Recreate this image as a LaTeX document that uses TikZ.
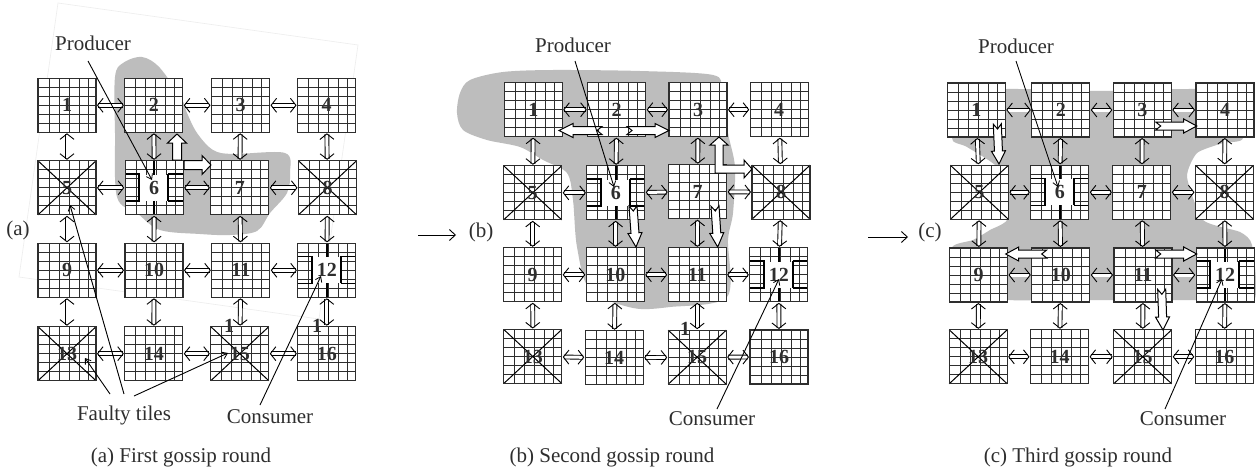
\documentclass[tikz,border=0pt]{standalone}
\usepackage{fontspec}
\setmainfont{Liberation Serif}
\usetikzlibrary{calc,arrows.meta}
\definecolor{ink}{HTML}{2E2E2E}
\definecolor{blobgray}{HTML}{BDBDBD}
\newcommand\tilegrid{%
  \fill[white] (0,0) rectangle (58,54);
  \foreach \gx in {11,21,31,41,50} \draw[gridline] (\gx,0) -- (\gx,54);
  \foreach \gy in {9,18,27,36,45} \draw[gridline] (0,\gy) -- (58,\gy);}
\newcommand\tiletile{\tilegrid}
\newcommand\tilefaulty{\tilegrid
  \draw[crossline] (0,0) -- (58,54);
  \draw[crossline] (58,0) -- (0,54);}
\newcommand\tilecore{\tilegrid
  \fill[white] (14,14) rectangle (43,40);
  \draw[coreline] (0,13) -- (14,13) -- (14,40) -- (0,40) (43,13) -- (58,13) (43,13) -- (43,40) (43,40) -- (58,40);
  \draw[coreline] (29,0) -- (29,14) (29,40) -- (29,54);}
\newcommand\placetile[5]{%
  \begin{scope}[shift={(#3-29,#4-27)}]\csname tile#5\endcsname\end{scope}
  \node[tilebase] (#1#2) at (#3,#4) {#2};}
\newcommand\gossiparrow[6]{%
  \coordinate (gh) at ($(#6)!#3pt!(#5)$);
  \coordinate (gn) at ($(#5)!#4pt!(#6)$);
  \draw[blockarrow] ($(#5)!#1pt!90:(#6)$) -- ($(gh)!#1pt!90:(#6)$) -- ($(gh)!#2pt!90:(#6)$) -- (#6)
    -- ($(gh)!#2pt!-90:(#6)$) -- ($(gh)!#1pt!-90:(#6)$) -- ($(#5)!#1pt!-90:(#6)$) -- (gn) -- cycle;}
\newcommand\linkall[1]{%
  \foreach \p/\q in {1/2,2/3,3/4,5/6,6/7,7/8,9/10,10/11,11/12,13/14,14/15,15/16,1/5,2/6,3/7,4/8,5/9,6/10,7/11,8/12,9/13,10/14,11/15,12/16}
    \draw[link] (#1\p) -- (#1\q);}
\tikzset{
  x=1pt,y=-1pt,
  gridline/.style={line width=1pt,ink},
  crossline/.style={line width=1pt,black},
  coreline/.style={line width=1.5pt,black},
  tilebase/.style={draw=ink,line width=1.3pt,minimum width=58pt,minimum height=54pt,inner sep=0pt,outer sep=0pt,
    text=ink,font=\fontsize{20}{20}\selectfont\bfseries},
  link/.style={double=white,double distance=3pt,line width=0.9pt,black,shorten >=1pt,shorten <=1pt,
    {Straight Barb[length=5.5pt,width=14pt,line width=0.9pt]}-{Straight Barb[length=5.5pt,width=14pt,line width=0.9pt]}},
  blockarrow/.style={draw=black,line width=1pt,fill=white,line join=miter},
  leader/.style={line width=0.9pt,black,-{Straight Barb[length=5pt,width=7pt,line width=0.8pt]}},
  flow/.style={line width=0.9pt,black,-{Straight Barb[length=6pt,width=11pt,line width=0.9pt]}},
  blob/.style={fill=blobgray,draw=none},
  lbl/.style={text=ink,font=\fontsize{21}{21}\selectfont,inner sep=0pt},
  one/.style={text=ink,font=\fontsize{20}{20}\selectfont\bfseries,inner sep=0pt},
  faint/.style={draw=black!7,line width=0.6pt},
}
\begin{document}
\begin{tikzpicture}
\useasboundingbox (0,0) rectangle (1256,471);
\fill[white] (0,0) rectangle (1256,471);
% faint frame in panel a
\draw[faint] (58,3) -- (358,45) -- (319,319) -- (19,277) -- cycle;
% gray regions
\fill[blob] plot[smooth cycle,tension=0.55] coordinates {(142,57) (160,68) (182,100) (187,113) (197,133) (213,150) (233,154) (285,153) (290,173) (287,193) (270,213) (257,231) (230,235) (200,234) (160,230) (137,213) (117,197) (115,133) (115,77) (123,63)};
\fill[blob] plot[smooth cycle,tension=0.5] coordinates {(470,80) (503,72) (553,70) (640,71) (713,75) (722,90) (728,133) (735,167) (733,213) (728,240) (727,297) (670,307) (633,308) (590,290) (577,247) (573,200) (567,173) (543,160) (520,147) (487,140) (463,130) (457,113) (460,93)};
\fill[blob] plot[smooth cycle,tension=0.35] coordinates {(980,91) (1100,91) (1230,91) (1243,138) (1223,143) (1197,153) (1187,177) (1203,220) (1240,232) (1252,245) (1254,300) (1196,300) (1100,300) (1008,300) (975,290) (952,248) (973,240) (990,230) (1008,218) (1000,170) (967,147) (952,138)};
% panel a tiles
\foreach \n/\x/\y/\k in {1/67/105.3/tile,2/153.8/105.3/tile,3/240.5/105.3/tile,4/326.5/105.3/tile,
  5/67/187.8/faulty,6/154.2/187.8/core,7/239.8/187.8/tile,8/327.5/187.8/faulty,
  9/67/270.3/tile,10/154/270.3/tile,11/240.8/270.3/tile,12/326.8/270.3/core,
  13/67/353.7/faulty,14/153.8/353.7/tile,15/239.8/353.7/faulty,16/326.8/353.7/tile}
  {\placetile{a}{\n}{\x}{\y}{\k}}
% panel b tiles
\foreach \n/\x/\y/\k in {1/533.3/109.7/tile,2/616.7/109.7/tile,3/698/109.7/tile,4/779.2/109.7/tile,
  5/532.7/192.8/faulty,6/615.8/192.8/core,7/697.7/191.7/tile,8/781/192.2/faulty,
  9/532.7/274.8/tile,10/615.3/274.8/tile,11/697.2/274.8/tile,12/778.8/274.8/core,
  13/532.8/356.5/faulty,14/614.2/357.8/tile,15/697.2/357.2/faulty,16/779/357/tile}
  {\placetile{b}{\n}{\x}{\y}{\k}}
% panel c tiles
\foreach \n/\x/\y/\k in {1/976.3/110/tile,2/1060.8/110/tile,3/1142.3/110/tile,4/1225/110/tile,
  5/979.4/192.3/faulty,6/1059.8/192.3/core,7/1141.8/192.3/tile,8/1224.5/192.3/faulty,
  9/978.5/275/tile,10/1060.8/275/tile,11/1143/275/tile,12/1225.2/275/core,
  13/978.2/356.8/faulty,14/1059.5/356.8/tile,15/1142.7/356.8/faulty,16/1224.3/356.8/tile}
  {\placetile{c}{\n}{\x}{\y}{\k}}
\linkall{a}\linkall{b}\linkall{c}
% block arrows panel a
\coordinate (au0) at (177,160); \coordinate (au1) at (177,134);
\coordinate (ar0) at (184,165); \coordinate (ar1) at (211,165);
\gossiparrow{4.5}{9.5}{9}{0}{au0}{au1}
\gossiparrow{4.5}{9.5}{9}{0}{ar0}{ar1}
% block arrows panel b
\coordinate (bl0) at (602,130.5); \coordinate (bl1) at (559,130.5);
\coordinate (br0) at (627,130.5); \coordinate (br1) at (669,130.5);
\coordinate (bd0) at (633,206); \coordinate (bd1) at (636,247);
\coordinate (be0) at (715,206); \coordinate (be1) at (717.7,247);
\gossiparrow{4}{7}{14}{5}{bl0}{bl1}
\gossiparrow{4}{7}{14}{5}{br0}{br1}
\gossiparrow{4}{7}{14}{5}{bd0}{bd1}
\gossiparrow{4}{7}{14}{5}{be0}{be1}
\draw[blockarrow] (719,137) -- (728,145) -- (723,145) -- (723,165) -- (744,165) -- (744,160) -- (752,169) -- (744,178) -- (744,173) -- (715,173) -- (715,145) -- (710,145) -- cycle;
% block arrows panel c
\coordinate (ca0) at (997.3,124); \coordinate (ca1) at (999,164);
\coordinate (cb0) at (1155.7,126); \coordinate (cb1) at (1196.7,126);
\coordinate (cd0) at (1046.7,254); \coordinate (cd1) at (1005.7,254);
\coordinate (ce0) at (1155.7,254); \coordinate (ce1) at (1196.7,254);
\coordinate (cf0) at (1161.7,289.3); \coordinate (cf1) at (1163,330);
\gossiparrow{4}{7}{13}{5}{ca0}{ca1}
\gossiparrow{4}{7}{13}{5}{cb0}{cb1}
\gossiparrow{4}{7}{13}{5}{cd0}{cd1}
\gossiparrow{4}{7}{13}{5}{ce0}{ce1}
\gossiparrow{4}{7}{13}{5}{cf0}{cf1}
% labels
\node[lbl] (pa) at (93,43) {Producer};
\node[lbl] (fa) at (124,415) {Faulty tiles};
\node[lbl] (ca) at (270,417) {Consumer};
\node[lbl] (capa) at (181,457) {(a) First gossip round};
\node[lbl] (ta) at (18,230) {(a)};
\node[one] (oa1) at (229,326) {1};
\node[one] (oa2) at (317,326) {1};
\node[lbl] (pb) at (573,45) {Producer};
\node[lbl] (cb) at (712,419) {Consumer};
\node[lbl] (capb) at (612,457) {(b) Second gossip round};
\node[lbl] (tb) at (481,232) {(b)};
\node[one] (ob1) at (685,329) {1};
\node[lbl] (pc) at (1016,46) {Producer};
\node[lbl] (cc) at (1183,419) {Consumer};
\node[lbl] (capc) at (1078,457) {(c) Third gossip round};
\node[lbl] (tc) at (930,232) {(c)};
% leaders
\coordinate (l1a) at (88,61); \coordinate (l1b) at (152,180);
\coordinate (l2a) at (110,394); \coordinate (l2b) at (85,358);
\coordinate (l3a) at (124,394); \coordinate (l3b) at (70,205);
\coordinate (l4a) at (134,396); \coordinate (l4b) at (228,353);
\coordinate (l5a) at (260,405); \coordinate (l5b) at (321,276);
\coordinate (l6a) at (575,61); \coordinate (l6b) at (614,187);
\coordinate (l7a) at (717,409); \coordinate (l7b) at (779,279);
\coordinate (l8a) at (1016,61); \coordinate (l8b) at (1058,187);
\coordinate (l9a) at (1165,409); \coordinate (l9b) at (1222,279);
\foreach \k in {1,...,9} \draw[leader] (l\k a) -- (l\k b);
% flow arrows between panels
\coordinate (fa0) at (418,235); \coordinate (fa1) at (456,235);
\coordinate (fb0) at (868,237); \coordinate (fb1) at (908,237);
\draw[flow] (fa0) -- (fa1);
\draw[flow] (fb0) -- (fb1);
\end{tikzpicture}
\end{document}
